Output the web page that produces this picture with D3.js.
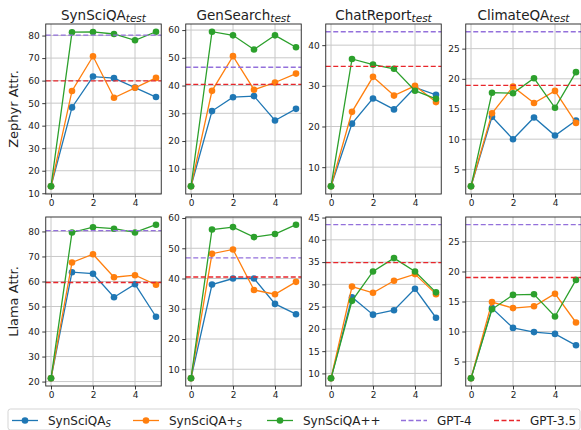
<!DOCTYPE html>
<html><head><meta charset="utf-8">
<script src="https://cdn.jsdelivr.net/npm/d3@7"></script>
<style>body{margin:0;background:#fff}svg{display:block}text{font-family:"DejaVu Sans",sans-serif;fill:#222}</style>
</head><body><svg id="c" width="581" height="430"></svg>
<script>
// ---------- data ----------
const steps = [0, 1, 2, 3, 4, 5];
const datasets = ["SynSciQA", "GenSearch", "ChatReport", "ClimateQA"];
const models = ["Zephyr Attr.", "Llama Attr."];
const seriesNames = ["SynSciQA", "SynSciQA+", "SynSciQA++"];
const seriesSubs = ["S", "S", ""];
const refNames = ["GPT-4", "GPT-3.5"];

// Zephyr (top row): one array per dataset
const zephyrSynSciQA_S = [
  [13.1, 48.1, 61.8, 61.1, 56.9, 52.7],
  [3.7, 30.8, 35.8, 36.2, 27.4, 31.6],
  [5.3, 20.7, 26.9, 24.2, 29.6, 27.8],
  [2.2, 13.7, 10.0, 13.6, 10.6, 13.1]
];
const zephyrSynSciQAplus_S = [
  [13.1, 55.4, 70.8, 52.4, 56.8, 61.2],
  [3.7, 38.1, 50.6, 38.5, 41.1, 44.3],
  [5.3, 23.6, 32.2, 27.6, 30.0, 26.0],
  [2.2, 14.3, 18.7, 16.0, 18.0, 12.7]
];
const zephyrSynSciQApp = [
  [13.1, 81.5, 81.6, 80.7, 77.9, 81.7],
  [3.7, 59.4, 58.1, 53.0, 58.1, 53.8],
  [5.3, 36.6, 35.2, 34.2, 28.8, 26.8],
  [2.2, 17.7, 17.6, 20.1, 15.2, 21.1]
];
const zephyrGPT4 = [80.2, 46.6, 43.3, 27.8];
const zephyrGPT35 = [59.9, 40.4, 34.8, 18.9];

// Llama (bottom row)
const llamaSynSciQA_S = [
  [21.3, 63.7, 63.1, 53.7, 58.9, 45.9],
  [7.0, 38.0, 40.0, 40.0, 31.6, 28.2],
  [8.9, 27.1, 23.2, 24.2, 29.0, 22.5],
  [2.2, 13.9, 10.6, 9.9, 9.6, 7.7]
];
const llamaSynSciQAplus_S = [
  [21.3, 67.6, 70.9, 61.7, 62.5, 58.7],
  [7.0, 48.2, 49.6, 36.2, 34.8, 38.9],
  [8.9, 29.5, 28.1, 30.8, 32.3, 27.8],
  [2.2, 14.9, 13.9, 14.2, 16.3, 11.5]
];
const llamaSynSciQApp = [
  [21.3, 79.6, 81.7, 81.1, 79.6, 82.7],
  [7.0, 56.2, 57.0, 53.7, 54.7, 57.8],
  [8.9, 26.3, 32.9, 35.9, 32.9, 28.2],
  [2.2, 13.7, 16.1, 16.2, 12.5, 18.6]
];
const llamaGPT4 = [80.3, 46.8, 43.4, 27.8];
const llamaGPT35 = [59.6, 40.5, 34.9, 19.0];

const xTicks = [0, 2, 4];
const zephyrTicks = [[10,20,30,40,50,60,70,80],[10,20,30,40,50,60],[10,20,30,40],[5,10,15,20,25]];
const llamaTicks = [[20,30,40,50,60,70,80],[10,20,30,40,50,60],[10,15,20,25,30,35,40,45],[5,10,15,20,25]];

// ---------- style / layout ----------
const colors = ["#1f77b4", "#ff7f0e", "#2ca02c"];
const refColors = ["#9370db", "#e8262b"];
const rows = [
  {label: models[0], series: [zephyrSynSciQA_S, zephyrSynSciQAplus_S, zephyrSynSciQApp], refs: [zephyrGPT4, zephyrGPT35], ticks: zephyrTicks, top: 24, h: 170},
  {label: models[1], series: [llamaSynSciQA_S, llamaSynSciQAplus_S, llamaSynSciQApp], refs: [llamaGPT4, llamaGPT35], ticks: llamaTicks, top: 217, h: 169}
];
const left0 = 45.75, step = 140, pw = 115.5;

const svg = d3.select("#c");

rows.forEach((row, ri) => {
  // y label
  const cy = row.top + row.h / 2;
  svg.append("text").attr("transform", `translate(18,${cy}) rotate(-90)`)
    .attr("text-anchor", "middle").attr("font-size", 13).text(row.label);

  datasets.forEach((ds, di) => {
    const L = left0 + di * step;
    const x = d3.scaleLinear().domain([-0.25, 5.25]).range([L, L + pw]);
    const vals = row.series.flatMap(s => s[di]).concat(row.refs.map(r => r[di]));
    const mn = d3.min(vals), mx = d3.max(vals), m = (mx - mn) * 0.05;
    const y = d3.scaleLinear().domain([mn - m, mx + m]).range([row.top + row.h, row.top]);
    const g = svg.append("g");

    // grid
    g.selectAll(".gy").data(row.ticks[di]).join("line")
      .attr("x1", L).attr("x2", L + pw).attr("y1", d => y(d)).attr("y2", d => y(d))
      .attr("stroke", "#c8c8c8").attr("stroke-width", 1);
    g.selectAll(".gx").data(xTicks).join("line")
      .attr("x1", d => x(d)).attr("x2", d => x(d)).attr("y1", row.top).attr("y2", row.top + row.h)
      .attr("stroke", "#c8c8c8").attr("stroke-width", 1);

    // series
    row.series.forEach((s, si) => {
      const pts = steps.map((t, k) => [t, s[di][k]]);
      g.append("path").datum(pts)
        .attr("d", d3.line().x(d => x(d[0])).y(d => y(d[1])))
        .attr("fill", "none").attr("stroke", colors[si]).attr("stroke-width", 1.3);
      g.selectAll(null).data(pts).join("circle")
        .attr("cx", d => x(d[0])).attr("cy", d => y(d[1])).attr("r", 3.3)
        .attr("fill", colors[si]);
    });

    // reference lines
    row.refs.forEach((r, k) => {
      g.append("line").attr("x1", L).attr("x2", L + pw)
        .attr("y1", y(r[di])).attr("y2", y(r[di]))
        .attr("stroke", refColors[k]).attr("stroke-width", 1.3)
        .attr("stroke-dasharray", "5,2.5");
    });

    // axes
    const ay = d3.axisLeft(y).tickValues(row.ticks[di]).tickFormat(d3.format("d")).tickSize(3.5).tickPadding(2.5);
    const ax = d3.axisBottom(x).tickValues(xTicks).tickFormat(d3.format("d")).tickSize(3.5).tickPadding(2.5);
    const gy = svg.append("g").attr("transform", `translate(${L},0)`).call(ay);
    const gx = svg.append("g").attr("transform", `translate(0,${row.top + row.h})`).call(ax);
    [gy, gx].forEach(a => {
      a.select(".domain").remove();
      a.selectAll("line").attr("stroke", "#222").attr("stroke-width", 0.9);
      a.selectAll("text").attr("font-size", 9).attr("font-family", "DejaVu Sans").attr("fill", "#222");
    });
    svg.append("rect").attr("x", L).attr("y", row.top).attr("width", pw).attr("height", row.h)
      .attr("fill", "none").attr("stroke", "#222").attr("stroke-width", 0.9);

    // title (top row only)
    if (ri === 0) {
      const t = svg.append("text").attr("x", L + pw / 2).attr("y", 19.5)
        .attr("text-anchor", "middle").attr("font-size", 13.5);
      t.append("tspan").text(ds);
      t.append("tspan").attr("font-size", 10.5).attr("font-style", "italic").attr("dy", 2).text("test");
    }
  });
});

// ---------- legend ----------
const lg = svg.append("g");
lg.append("rect").attr("x", 8).attr("y", 409).attr("width", 572).attr("height", 21)
  .attr("rx", 2.5).attr("fill", "#fff").attr("stroke", "#d0d0d0").attr("stroke-width", 0.9);
const legendItems = [
  {name: seriesNames[0], sub: seriesSubs[0], color: colors[0], x: 12, dash: false},
  {name: seriesNames[1], sub: seriesSubs[1], color: colors[1], x: 133, dash: false},
  {name: seriesNames[2], sub: seriesSubs[2], color: colors[2], x: 267, dash: false},
  {name: refNames[0], sub: "", color: refColors[0], x: 401, dash: true},
  {name: refNames[1], sub: "", color: refColors[1], x: 494, dash: true}
];
const ly = 420.5;
legendItems.forEach(it => {
  lg.append("line").attr("x1", it.x).attr("x2", it.x + 26).attr("y1", ly).attr("y2", ly)
    .attr("stroke", it.color).attr("stroke-width", 1.3)
    .attr("stroke-dasharray", it.dash ? "5,2.5" : null);
  if (!it.dash) lg.append("circle").attr("cx", it.x + 13).attr("cy", ly).attr("r", 3.3).attr("fill", it.color);
  const t = lg.append("text").attr("x", it.x + 36).attr("y", ly + 4.3).attr("font-size", 12);
  t.append("tspan").text(it.name);
  if (it.sub) t.append("tspan").attr("font-size", 8.5).attr("font-style", "italic").attr("dy", 2.5).text(it.sub);
});
</script></body></html>
